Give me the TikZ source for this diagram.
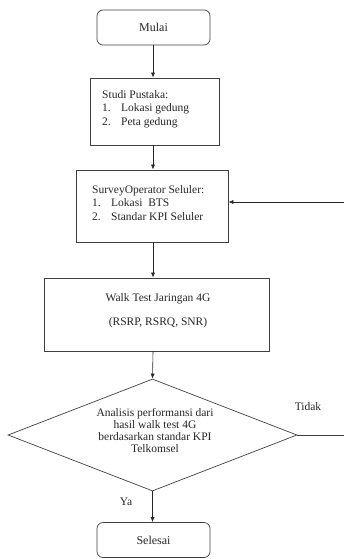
\documentclass[tikz,border=0pt]{standalone}
\usepackage{fontspec}
\setmainfont{Liberation Serif}
\usetikzlibrary{arrows.meta,shapes.geometric}
\begin{document}
\begin{tikzpicture}[x=1pt,y=-1pt,
  every node/.style={font=\fontsize{11.5}{13.5}\selectfont, text=black!85},
  frame/.style={draw=black!75, line width=0.7pt, inner sep=0pt},
  termbox/.style={frame, rectangle, rounded corners=6pt, minimum width=113pt, minimum height=35pt},
  procbox/.style={frame, rectangle},
  decbox/.style={frame, diamond, minimum width=289pt, minimum height=112pt},
  listtext/.style={anchor=north west, align=left, inner sep=0pt},
  flow/.style={draw=black!85, line width=0.6pt, -{Latex[length=5pt,width=4pt]}},
  plain/.style={draw=black!75, line width=0.6pt}
]
\useasboundingbox (0,0) rectangle (344,559);

% terminals and process boxes
\node[termbox] (start) at (153.5,27.5) {\fontsize{12}{14}\selectfont Mulai};
\node[procbox, minimum width=129pt, minimum height=67pt] (lit) at (154.5,111.5) {};
\node[listtext] (littext) at (102,90) {Studi Pustaka:\\
  \makebox[19pt][l]{1.}Lokasi gedung\\
  \makebox[19pt][l]{2.}Peta gedung};
\node[procbox, minimum width=152pt, minimum height=72pt] (survey) at (152,206) {};
\node[listtext] (surveytext) at (92,185) {SurveyOperator Seluler:\\
  \makebox[19pt][l]{1.}Lokasi\ \ BTS\\
  \makebox[19pt][l]{2.}Standar KPI Seluler};
\node[procbox, minimum width=225pt, minimum height=73pt, align=center] (walk) at (156.5,314.5) {};
\node (walktext1) at (158,299) {Walk Test Jaringan 4G};
\node (walktext2) at (158,323) {(RSRP, RSRQ, SNR)};

% decision
\node[decbox] (dec) at (152.5,435) {};
\node[align=center, font=\fontsize{11.5}{12}\selectfont] (dectext) at (155,431) {Analisis performansi dari\\
  hasil walk test 4G\\ berdasarkan standar KPI\\ Telkomsel};
\node[termbox] (stop) at (153.5,540) {\fontsize{12}{14}\selectfont Selesai};

% branch labels
\node (no) at (308,407) {Tidak};
\node (yes) at (126,502) {Ya};

% main flow
\draw[flow] (start.south -| 153,0) -- (153,0 |- lit.north);
\draw[flow] (lit.south -| 153,0) -- (153,0 |- survey.north);
\draw[flow] (survey.south -| 153,0) -- (153,0 |- walk.north);
\draw[flow] (walk.south -| 153,0) -- (dec.north);
\draw[flow] (dec.south) -- (stop.north -| dec.south);

% loop back when the standard is not met
\coordinate (loopout) at (344,435);
\coordinate (loopin) at (344,202);
\draw[plain] (dec.east) -- (loopout);
\draw[flow] (loopin) -- (survey.east |- loopin);
\end{tikzpicture}
\end{document}
